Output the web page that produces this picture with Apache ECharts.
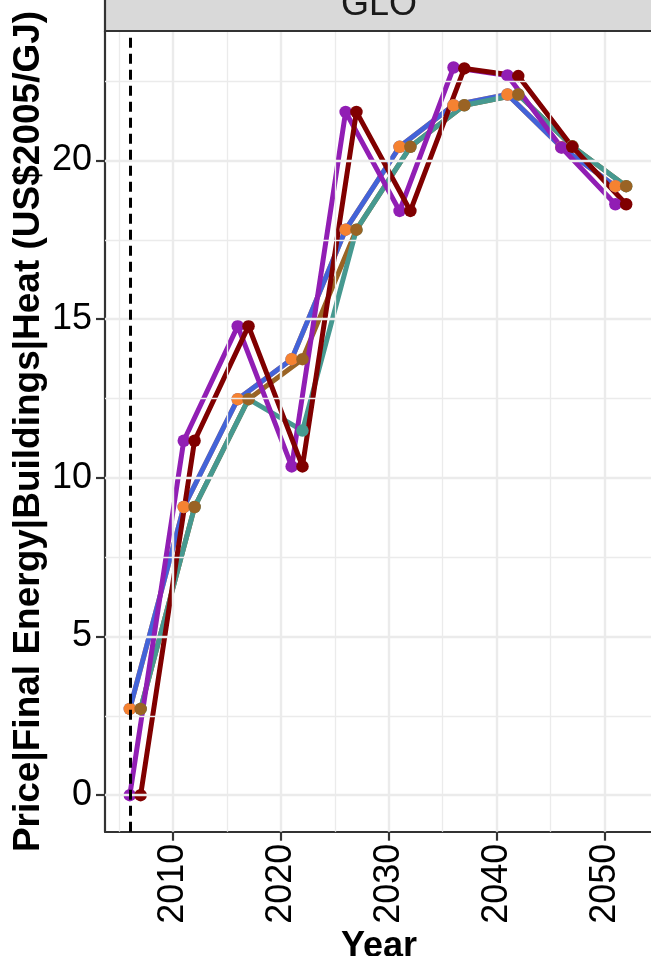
<!DOCTYPE html>
<html>
<head>
<meta charset="utf-8">
<script src="https://cdn.jsdelivr.net/npm/echarts@6/dist/echarts.min.js"></script>
<style>
html,body{margin:0;padding:0;background:#fff;}
#chart{width:651px;height:956px;}
</style>
</head>
<body>
<div id="chart"></div>
<script>
// x positions (years): two dodge positions
const yearsLeft  = [2006, 2011, 2016, 2021, 2026, 2031, 2036, 2041, 2046, 2051];
const yearsRight = [2007, 2012, 2017, 2022, 2027, 2032, 2037, 2042, 2047, 2052];

// series values (US$2005/GJ)
const purpleVals = [0, 11.17, 14.78, 10.36, 21.53, 18.41, 22.93, 22.68, 20.41, 18.62];
const maroonVals = [0, 11.17, 14.78, 10.36, 21.53, 18.41, 22.90, 22.66, 20.43, 18.62];
const blueVals   = [2.72, 9.08, 12.48, 13.74, 17.82, 20.43, 21.74, 22.08, 20.42, 19.19];
const orangeVals = [2.72, 9.08, 12.48, 13.74, 17.82, 20.43, 21.74, 22.08, 20.42, 19.19];
const tealVals   = [2.72, 9.08, 12.48, 11.49, 17.82, 20.43, 21.74, 22.08, 20.45, 19.19];
const brownVals  = [2.72, 9.08, 12.48, 13.74, 17.82, 20.43, 21.74, 22.08, 20.45, 19.19];

const xTickLabels = [2010, 2020, 2030, 2040, 2050];
const yTickLabels = [0, 5, 10, 15, 20];
const xMinorGrid  = [2005, 2015, 2025, 2035, 2045];
const yMinorGrid  = [2.5, 7.5, 12.5, 17.5, 22.5];
const refYear = 2006;
const regionLabel = 'GLO';
const xTitle = 'Year';
const yTitle = 'Price|Final Energy|Buildings|Heat (US$2005/GJ)';

const FONT = 'Liberation Sans, Arial, Helvetica, sans-serif';
const C = {purple:'#911eb4', maroon:'#800000', blue:'#4363d8', orange:'#f58231', teal:'#469990', brown:'#9a6324'};

const pts = (xs, ys) => xs.map((x, i) => [x, ys[i]]);

function lineSeries(name, color, xs, ys) {
  return {
    name, type: 'line', data: pts(xs, ys), showSymbol: false, z: 3,
    lineStyle: {color, width: 5, join: 'round', cap: 'butt'}, silent: true, animation: false
  };
}
function pointSeries(name, color, xs, ys) {
  return {
    name, type: 'scatter', data: pts(xs, ys), symbolSize: 12.5, z: 4,
    itemStyle: {color, opacity: 1}, silent: true, animation: false
  };
}

function gridSeries(axisKey, values, width) {
  return {type: 'line', data: [], z: 1, silent: true,
    markLine: {silent: true, symbol: 'none', animation: false, label: {show: false},
      lineStyle: {color: '#EBEBEB', width, type: 'solid'},
      data: values.map(v => ({[axisKey]: v}))}};
}

const chart = echarts.init(document.getElementById('chart'), null, {renderer: 'canvas'});
chart.setOption({
  animation: false,
  backgroundColor: '#ffffff',
  grid: {left: 105, top: 31, width: 548, height: 800.7, containLabel: false},
  xAxis: {
    type: 'value', min: 2003.7, max: 2054.3,
    axisLine: {show: true, onZero: false, lineStyle: {color: '#333333', width: 2.2}},
    axisTick: {show: true, length: 9, lineStyle: {color: '#333333', width: 2.2}, customValues: xTickLabels},
    axisLabel: {show: true, rotate: 90, fontSize: 36, color: '#000', fontFamily: FONT, margin: 12, customValues: xTickLabels,
      formatter: v => String(v)},
    splitLine: {show: false}
  },
  yAxis: {
    type: 'value', min: -1.15, max: 24.08,
    axisLine: {show: true, onZero: false, lineStyle: {color: '#333333', width: 2.2}},
    axisTick: {show: true, length: 9, lineStyle: {color: '#333333', width: 2.2}, customValues: yTickLabels},
    axisLabel: {show: true, fontSize: 36, color: '#000', fontFamily: FONT, margin: 13, customValues: yTickLabels,
      formatter: v => String(v)},
    splitLine: {show: false}
  },
  series: [
    gridSeries('xAxis', xMinorGrid, 1.3),
    gridSeries('yAxis', yMinorGrid, 1.3),
    gridSeries('xAxis', xTickLabels, 2.4),
    gridSeries('yAxis', yTickLabels, 2.4),
    {type: 'line', data: [], z: 2, silent: true,
      markLine: {silent: true, symbol: 'none', animation: false, label: {show: false},
        lineStyle: {color: '#000', width: 3, type: [10, 6]},
        data: [{xAxis: refYear}]}},
    lineSeries('orange', C.orange, yearsLeft, orangeVals),
    lineSeries('brown', C.brown, yearsRight, brownVals),
    lineSeries('blue', C.blue, yearsLeft, blueVals),
    lineSeries('teal', C.teal, yearsRight, tealVals),
    lineSeries('purple', C.purple, yearsLeft, purpleVals),
    lineSeries('maroon', C.maroon, yearsRight, maroonVals),
    pointSeries('blue', C.blue, yearsLeft, blueVals),
    pointSeries('teal', C.teal, yearsRight, tealVals),
    pointSeries('orange', C.orange, yearsLeft, orangeVals),
    pointSeries('brown', C.brown, yearsRight, brownVals),
    pointSeries('purple', C.purple, yearsLeft, purpleVals),
    pointSeries('maroon', C.maroon, yearsRight, maroonVals)
  ],
  graphic: [
    {type: 'rect', z: 100, shape: {x: 105, y: -30, width: 560, height: 61},
      style: {fill: '#D9D9D9', stroke: '#333333', lineWidth: 2.2}},
    {type: 'text', z: 101, x: 379, y: 5,
      style: {text: regionLabel, font: '36px ' + FONT, fill: '#1A1A1A', textAlign: 'center', textVerticalAlign: 'middle'}},
    {type: 'text', z: 101, x: 379, y: 947,
      style: {text: xTitle, font: 'bold 36px ' + FONT, fill: '#000', textAlign: 'center', textVerticalAlign: 'middle'}},
    {type: 'text', z: 101, x: 29, y: 431.5, rotation: Math.PI / 2,
      style: {text: yTitle, font: 'bold 37px ' + FONT, fill: '#000', textAlign: 'center', textVerticalAlign: 'middle'}}
  ]
});
</script>
</body>
</html>
